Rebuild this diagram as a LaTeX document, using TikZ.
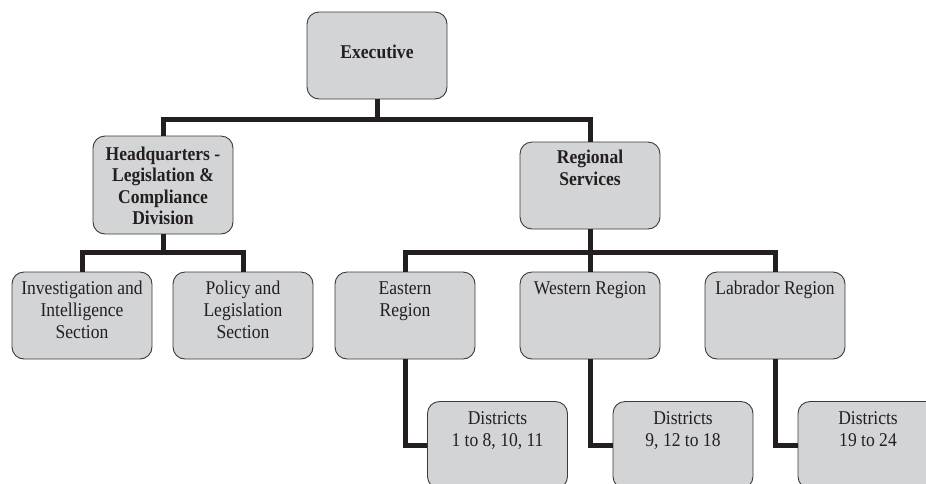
\documentclass[tikz,border=0pt]{standalone}
\usepackage{fontspec}
\setmainfont[FakeStretch=0.9]{Liberation Serif}
\definecolor{boxfill}{HTML}{D3D4D6}
\definecolor{boxdraw}{HTML}{3A3A3A}
\definecolor{ink}{HTML}{231F20}
\begin{document}
\begin{tikzpicture}[x=1pt,y=-1pt,
  orgbox/.style={draw=boxdraw, fill=boxfill, line width=0.9pt, rounded corners=12pt,
    minimum width=140pt, minimum height=87pt, inner sep=0pt},
  txt/.style={anchor=north, inner sep=0pt, align=center, text=ink,
    font=\fontsize{19.5}{22}\selectfont},
  btxt/.style={txt, font=\fontsize{19.5}{21.5}\selectfont\bfseries},
  link/.style={draw=ink, line width=5pt}]
\useasboundingbox (0,0) rectangle (926,483);
\clip (0,0) rectangle (926,483);
% boxes
\node[orgbox] (exec) at (377,55.5) {};
\node[orgbox, minimum height=98pt] (hq) at (163,185) {};
\node[orgbox] (reg) at (590,185.5) {};
\node[orgbox] (inv) at (82,315.5) {};
\node[orgbox] (pol) at (243,315.5) {};
\node[orgbox] (east) at (405,315.5) {};
\node[orgbox] (west) at (590,315.5) {};
\node[orgbox] (lab) at (775,315.5) {};
\node[orgbox] (d1) at (497.5,445) {};
\node[orgbox] (d2) at (683,445) {};
\node[orgbox] (d3) at (868,445) {};
% connectors
\coordinate (bar1) at (377,119);
\coordinate (bar2) at (163,252);
\coordinate (bar3) at (590,252);
\draw[link] (exec.south) -- (bar1);
\draw[link] (hq.north) |- (bar1) -| (reg.north);
\draw[link] (hq.south) -- (bar2);
\draw[link] (inv.north) |- (bar2) -| (pol.north);
\draw[link] (reg.south) -- (west.north);
\draw[link] (east.north) |- (bar3) -| (lab.north);
\draw[link] (east.south) |- (d1.west);
\draw[link] (west.south) |- (d2.west);
\draw[link] (lab.south) |- (d3.west);
% texts
\node[btxt, anchor=base] (texec) at (377,58) {Executive};
\node[btxt, yshift=-9.6pt] (thq) at (hq.north) {\strut Headquarters -\\Legislation \&\\Compliance\\Division};
\node[btxt, yshift=-7pt] (treg) at (reg.north) {\strut Regional\\Services};
\node[txt, yshift=-7.6pt] (tinv) at (inv.north) {\strut Investigation and\\Intelligence\\Section};
\node[txt, yshift=-7.6pt] (tpol) at (pol.north) {\strut Policy and\\Legislation\\Section};
\node[txt, yshift=-7.6pt] (teast) at (east.north) {\strut Eastern\\Region};
\node[txt, yshift=-7.6pt] (twest) at (west.north) {\strut Western Region};
\node[txt, yshift=-7.6pt] (tlab) at (lab.north) {\strut Labrador Region};
\node[txt, yshift=-7.6pt] (td1) at (d1.north) {\strut Districts\\1 to 8, 10, 11};
\node[txt, yshift=-7.6pt] (td2) at (d2.north) {\strut Districts\\9, 12 to 18};
\node[txt, yshift=-7.6pt] (td3) at (d3.north) {\strut Districts\\19 to 24};
\end{tikzpicture}
\end{document}
